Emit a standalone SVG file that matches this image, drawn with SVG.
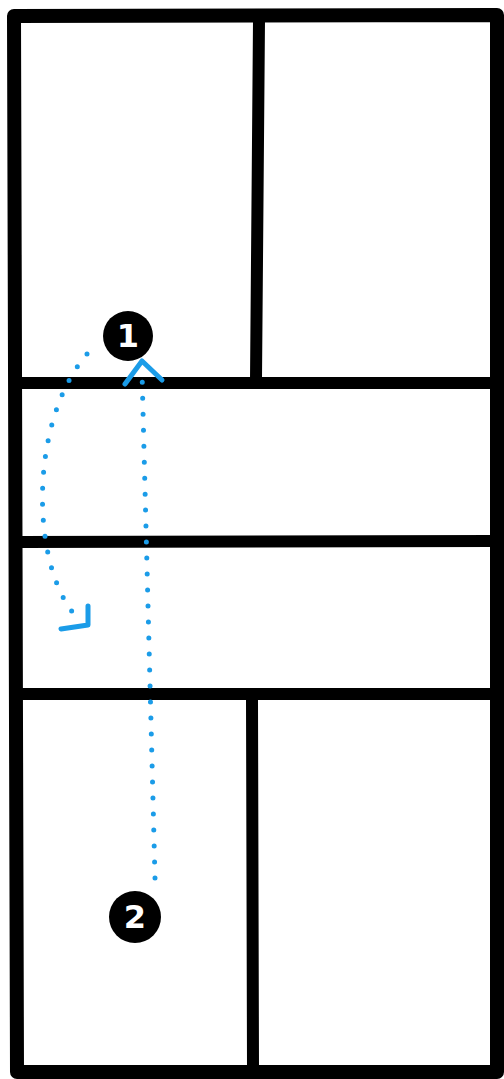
<svg xmlns="http://www.w3.org/2000/svg" width="504" height="1079" viewBox="0 0 504 1079">
<style>
.ink{fill:none;stroke:#000;stroke-linecap:round;stroke-linejoin:round}
.dots{fill:none;stroke:#1b9ce8;stroke-width:5;stroke-linecap:round;stroke-dasharray:0 16}
.head{fill:none;stroke:#1b9ce8;stroke-width:5;stroke-linecap:round;stroke-linejoin:round}
.badge{fill:#000}
.num{fill:#fff;font-family:"DejaVu Sans",sans-serif;font-weight:bold;font-size:32px;text-anchor:middle}
</style>
<rect width="504" height="1079" fill="#fff"/>
<g id="frame">
<path class="ink" stroke-width="14" d="M14,16 L497,15 L497,1072 L17,1072 Z"/>
<path class="ink" stroke-width="12" d="M259,20 L256,380"/>
<path class="ink" stroke-width="12" d="M21,383 L493,383"/>
<path class="ink" stroke-width="12" d="M21,542 L493,541"/>
<path class="ink" stroke-width="12" d="M21,694 L493,694"/>
<path class="ink" stroke-width="12" d="M252,700 L253,1068"/>
</g>
<g id="connectors">
<path class="dots" d="M155,878 L142,372"/>
<path class="head" d="M125,384 L142,361 L162,380"/>
<path class="dots" d="M87,354 C30,420 30,560 74,614"/>
<path class="head" d="M88,606 L88,625 L61,629"/>
</g>
<g id="node1">
<circle class="badge" cx="128" cy="336" r="25"/>
<text class="num" x="128" y="347">1</text>
</g>
<g id="node2">
<circle class="badge" cx="135" cy="917" r="26"/>
<text class="num" x="135" y="928">2</text>
</g>
</svg>
